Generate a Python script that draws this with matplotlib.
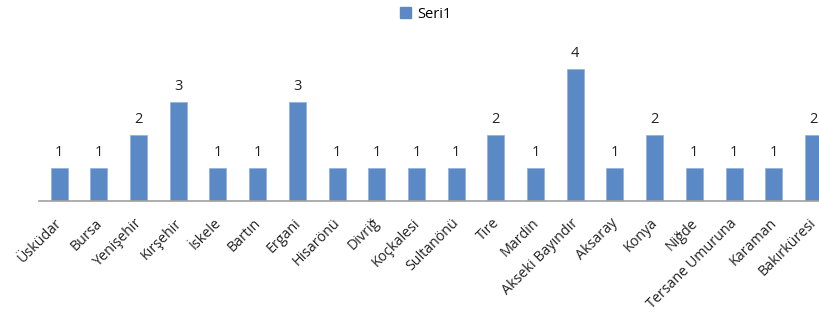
import matplotlib
matplotlib.use("Agg")
import matplotlib.pyplot as plt
import matplotlib.transforms as mtransforms
from matplotlib.patches import Patch

categories = ["Üsküdar", "Bursa", "Yenişehir", "Kırşehir", "İskele", "Bartın", "Ergani",
              "Hisarönü", "Divriğ", "Koçkalesi", "Sultanönü", "Tire", "Mardin",
              "Akseki Bayındır", "Aksaray", "Konya", "Niğde", "Tersane Umuruna",
              "Karaman", "Bakırküresi"]
values = [1, 1, 2, 3, 1, 1, 3, 1, 1, 1, 1, 2, 1, 4, 1, 2, 1, 1, 1, 2]
series_name = "Seri1"

plt.rcParams['font.family'] = ['Open Sans', 'DejaVu Sans']
W, H = 820, 326
fig = plt.figure(figsize=(W / 100, H / 100), dpi=100)
left, right = 39.3, 833.3
bottom, top = 201, 36
ax = fig.add_axes([left / W, 1 - bottom / H, (right - left) / W, (bottom - top) / H])

color = "#5B89C6"
x = list(range(len(categories)))
ax.bar(x, values, width=0.43, color=color, edgecolor="#8fb0dc", linewidth=0.5)
ax.set_xlim(-0.5, len(categories) - 0.5)
ax.set_ylim(0, 5)
for xi, v in zip(x, values):
    ax.text(xi, v + 0.24, str(v), ha="center", va="bottom", fontsize=10.5, color="#222222")

for s in ["top", "right", "left"]:
    ax.spines[s].set_visible(False)
ax.spines["bottom"].set_color("#A0A0A0")
ax.spines["bottom"].set_linewidth(1.2)
ax.set_yticks([])
ax.set_xticks(x)
ax.set_xticklabels([])
ax.tick_params(axis="x", length=0)

trans = mtransforms.offset_copy(ax.get_xaxis_transform(), fig=fig, x=1, y=-20, units="dots")
for xi, lab in zip(x, categories):
    ax.text(xi, 0, lab, transform=trans, rotation=45, ha="right", va="center",
            rotation_mode="anchor", fontsize=10.3, color="#222222")

fig.legend(handles=[Patch(facecolor=color, edgecolor=color)], labels=[series_name],
           loc="center", bbox_to_anchor=(426 / W, 1 - 14 / H), frameon=False,
           fontsize=10.5, handlelength=0.75, handleheight=0.75, handletextpad=0.45)

fig.savefig("out.png", dpi=100, facecolor="white")
